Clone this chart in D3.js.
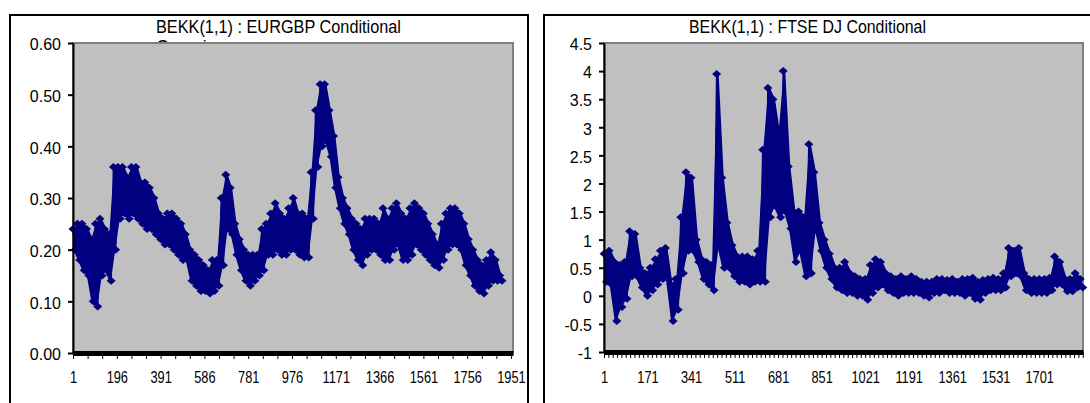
<!DOCTYPE html>
<html>
<head>
<meta charset="utf-8">
<script src="https://cdn.jsdelivr.net/npm/d3@7"></script>
<style>
body { margin: 0; background: #fff; }
svg { display: block; font-family: "Liberation Sans", Arial, sans-serif; }
</style>
</head>
<body>
<div id="chart"></div>
<script>
const kWidth = 1090;
const kHeight = 403;

// upper / lower edge of the EURGBP band, one pair every 20 observations
const eurgbpHi = [0.24, 0.25, 0.25, 0.24, 0.22, 0.25, 0.26, 0.24, 0.23, 0.36,
  0.36, 0.36, 0.34, 0.36, 0.36, 0.33, 0.33, 0.32, 0.30, 0.27,
  0.26, 0.27, 0.27, 0.26, 0.25, 0.23, 0.20, 0.19, 0.18, 0.17,
  0.16, 0.18, 0.18, 0.30, 0.345, 0.32, 0.25, 0.22, 0.20, 0.19,
  0.19, 0.19, 0.24, 0.25, 0.27, 0.29, 0.27, 0.26, 0.28, 0.30,
  0.27, 0.27, 0.26, 0.35, 0.47, 0.52, 0.52, 0.47, 0.42, 0.34,
  0.30, 0.28, 0.26, 0.25, 0.24, 0.26, 0.26, 0.26, 0.25, 0.28,
  0.26, 0.28, 0.29, 0.27, 0.26, 0.28, 0.29, 0.28, 0.27, 0.25,
  0.23, 0.21, 0.25, 0.27, 0.28, 0.28, 0.27, 0.25, 0.22, 0.20,
  0.18, 0.17, 0.18, 0.195, 0.18, 0.15];
const eurgbpLo = [0.20, 0.18, 0.16, 0.15, 0.10, 0.09, 0.15, 0.16, 0.14, 0.20,
  0.26, 0.27, 0.26, 0.27, 0.26, 0.25, 0.24, 0.24, 0.23, 0.22,
  0.21, 0.21, 0.20, 0.19, 0.18, 0.18, 0.14, 0.13, 0.12, 0.12,
  0.115, 0.12, 0.13, 0.17, 0.24, 0.23, 0.19, 0.16, 0.14, 0.13,
  0.14, 0.15, 0.16, 0.19, 0.19, 0.20, 0.19, 0.19, 0.20, 0.20,
  0.19, 0.185, 0.185, 0.26, 0.36, 0.40, 0.41, 0.38, 0.32, 0.28,
  0.25, 0.23, 0.20, 0.18, 0.17, 0.19, 0.20, 0.20, 0.19, 0.18,
  0.18, 0.20, 0.21, 0.18, 0.18, 0.19, 0.21, 0.20, 0.19, 0.18,
  0.17, 0.165, 0.18, 0.20, 0.21, 0.21, 0.20, 0.17, 0.15, 0.13,
  0.12, 0.115, 0.13, 0.14, 0.14, 0.14];

// upper / lower edge of the FTSE DJ band, one pair every 20 observations
const ftsedjHi = [0.75, 0.8, 0.6, 0.55, 0.6, 1.15, 1.1, 0.5, 0.4, 0.5,
  0.65, 0.8, 0.85, 0.2, 0.3, 1.4, 2.2, 2.1, 1.0, 0.65,
  0.6, 0.55, 3.95, 2.1, 1.3, 0.9, 0.7, 0.7, 0.7, 0.65,
  0.8, 2.6, 3.7, 3.5, 2.9, 4.0, 2.3, 1.5, 1.5, 1.4,
  2.7, 2.2, 1.3, 1.0, 0.75, 0.5, 0.5, 0.6, 0.4, 0.35,
  0.3, 0.3, 0.55, 0.65, 0.6, 0.4, 0.35, 0.3, 0.35, 0.3,
  0.35, 0.3, 0.25, 0.25, 0.25, 0.3, 0.3, 0.28, 0.3, 0.25,
  0.3, 0.3, 0.32, 0.25, 0.28, 0.3, 0.32, 0.3, 0.4, 0.85,
  0.8, 0.85, 0.4, 0.3, 0.3, 0.3, 0.3, 0.32, 0.7, 0.6,
  0.3, 0.3, 0.4, 0.3];
const ftsedjLo = [0.25, 0.2, -0.45, -0.2, -0.05, 0.35, 0.35, 0.15, 0.0, 0.1,
  0.2, 0.3, 0.3, -0.45, -0.25, 0.4, 0.8, 0.8, 0.6, 0.3,
  0.2, 0.1, 0.9, 0.5, 0.5, 0.35, 0.25, 0.25, 0.2, 0.25,
  0.25, 0.25, 1.4, 1.6, 1.4, 1.5, 1.2, 0.6, 0.8, 0.35,
  0.4, 1.2, 0.8, 0.5, 0.3, 0.15, 0.1, 0.05, 0.05, 0.0,
  0.0, -0.07, 0.05, 0.15, 0.2, 0.1, 0.05, 0.0, 0.05, 0.05,
  0.05, 0.05, 0.0, -0.03, 0.05, 0.05, 0.1, 0.05, 0.05, 0.05,
  0.0, 0.05, -0.05, -0.07, 0.05, 0.1, 0.1, 0.1, 0.15, 0.35,
  0.4, 0.35, 0.1, 0.05, 0.05, 0.05, 0.05, 0.1, 0.2, 0.2,
  0.08, 0.08, 0.15, 0.15];

const eurgbpXLabels = [1, 196, 391, 586, 781, 976, 1171, 1366, 1561, 1756, 1951];
const eurgbpYTicks = [0, 0.1, 0.2, 0.3, 0.4, 0.5, 0.6];
const ftsedjXLabels = [1, 171, 341, 511, 681, 851, 1021, 1191, 1361, 1531, 1701];
const ftsedjYTicks = [-1, -0.5, 0, 0.5, 1, 1.5, 2, 2.5, 3, 3.5, 4, 4.5];

const kStep = 20;

const panels = [
  {
    title: "BEKK(1,1) : EURGBP Conditional",
    subtitle: "Covariance",
    titleX: 156, titleLen: 245,
    frame: [10, 528],
    plot: { l: 73, r: 513, t: 43, b: 353 },
    count: 1960,
    yDomain: [0, 0.6],
    hi: eurgbpHi, lo: eurgbpLo,
    xLabels: eurgbpXLabels, minorEvery: 65,
    yTicks: eurgbpYTicks, yFormat: d3.format(".2f")
  },
  {
    title: "BEKK(1,1) : FTSE DJ Conditional",
    subtitle: null,
    titleX: 689, titleLen: 237,
    frame: [544, 1096],
    plot: { l: 604, r: 1083, t: 43, b: 352 },
    count: 1872,
    yDomain: [-1, 4.5],
    hi: ftsedjHi, lo: ftsedjLo,
    xLabels: ftsedjXLabels, minorEvery: 17,
    yTicks: ftsedjYTicks, yFormat: d => String(d)
  }
];

const svg = d3.select("#chart")
  .append("svg")
  .attr("width", kWidth)
  .attr("height", kHeight);

const diamond = "M0,-4L4.5,0L0,4L-4.5,0Z";
const navy = "#000080";

function drawPanel(p)
{
  const g = svg.append("g");

  // chart frame (runs past the bottom and right of the picture)
  g.append("path")
    .attr("d", `M${p.frame[0]},${kHeight + 5}V15H${p.frame[1]}V${kHeight + 5}`)
    .attr("fill", "none")
    .attr("stroke", "#000")
    .attr("stroke-width", 2);

  g.append("text")
    .attr("x", p.titleX)
    .attr("y", 33)
    .attr("font-size", 17.5)
    .attr("textLength", p.titleLen)
    .attr("lengthAdjust", "spacingAndGlyphs")
    .text(p.title);

  if (p.subtitle) {
    g.append("text")
      .attr("x", p.titleX)
      .attr("y", 53)
      .attr("font-size", 17.5)
      .text(p.subtitle);
  }

  const x = d3.scaleLinear()
    .domain([1, p.count])
    .range([p.plot.l, p.plot.r]);

  const y = d3.scaleLinear()
    .domain(p.yDomain)
    .range([p.plot.b, p.plot.t]);

  g.append("rect")
    .attr("x", p.plot.l)
    .attr("y", p.plot.t)
    .attr("width", p.plot.r - p.plot.l)
    .attr("height", p.plot.b - p.plot.t)
    .attr("fill", "#c0c0c0")
    .attr("stroke", "#808080")
    .attr("stroke-width", 2);

  // band between the read upper and lower edges
  const pairs = p.hi.map((v, i) => ({ c: 1 + i * kStep, hi: v, lo: p.lo[i] }));

  const area = d3.area()
    .x(d => x(d.c + kStep / 4))
    .y0(d => y(d.lo))
    .y1(d => y(d.hi));

  g.append("path")
    .datum(pairs)
    .attr("d", area)
    .attr("fill", navy)
    .attr("stroke", navy)
    .attr("stroke-width", 1.5);

  // series points: upper edge and lower edge values taken alternately
  const points = [];
  pairs.forEach(d => {
    points.push([d.c, d.hi]);
    points.push([d.c + kStep / 2, d.lo]);
  });

  const line = d3.line()
    .x(d => x(d[0]))
    .y(d => y(d[1]));

  g.append("path")
    .datum(points)
    .attr("d", line)
    .attr("fill", "none")
    .attr("stroke", navy)
    .attr("stroke-width", 1.5);

  g.selectAll("path.marker")
    .data(points)
    .enter()
    .append("path")
    .attr("class", "marker")
    .attr("d", diamond)
    .attr("transform", d => `translate(${x(d[0])},${y(d[1])})`)
    .attr("fill", navy);

  // y axis
  const yAxis = d3.axisLeft(y)
    .tickValues(p.yTicks)
    .tickFormat(p.yFormat)
    .tickSize(5)
    .tickSizeOuter(0)
    .tickPadding(7);

  const ya = g.append("g")
    .attr("transform", `translate(${p.plot.l},0)`)
    .call(yAxis);
  ya.select(".domain").attr("stroke-width", 2);
  ya.selectAll(".tick line").attr("stroke-width", 2);
  ya.selectAll("text")
    .attr("font-size", 16)
    .attr("font-family", "Liberation Sans, Arial, sans-serif")
    .attr("fill", "#000")
    .attr("dy", "0.42em");

  // x axis: minor tick marks, labels on every third (left) / tenth (right)
  const minor = d3.range(1, p.count + 1, p.minorEvery);
  const labelSet = new Set(p.xLabels);

  const xAxis = d3.axisBottom(x)
    .tickValues(minor)
    .tickFormat(d => labelSet.has(d) ? String(d) : "")
    .tickSize(6)
    .tickSizeOuter(0)
    .tickPadding(0);

  const xa = g.append("g")
    .attr("transform", `translate(0,${p.plot.b})`)
    .call(xAxis);
  xa.select(".domain").attr("stroke-width", 5);
  xa.selectAll("text")
    .attr("font-size", 16)
    .attr("font-family", "Liberation Sans, Arial, sans-serif")
    .attr("fill", "#000")
    .attr("y", 383 - p.plot.b)
    .attr("dy", null)
    .attr("transform", "scale(0.8,1)");
}

panels.forEach(drawPanel);
</script>
</body>
</html>
